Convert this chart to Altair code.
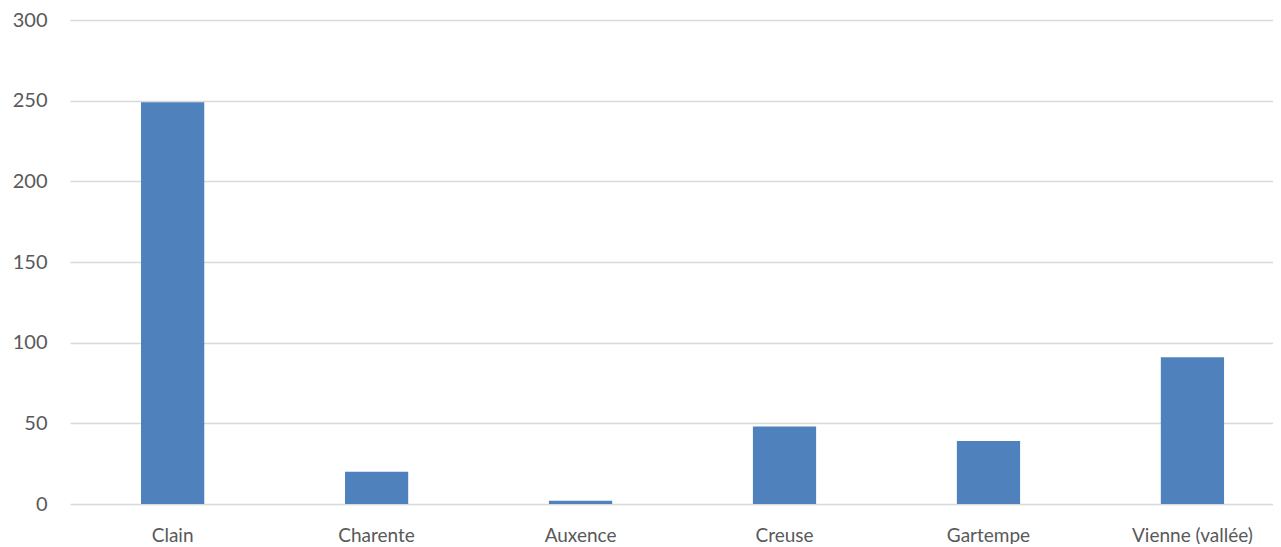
import altair as alt
import pandas as pd

categories = ["Clain", "Charente", "Auxence", "Creuse", "Gartempe", "Vienne (vallée)"]
values = [249, 20, 2, 48, 39, 91]

df = pd.DataFrame({"cat": categories, "val": values})

chart = alt.Chart(df).mark_bar(color="#4f81bd").encode(
    x=alt.X("cat:N", sort=categories, title=None,
            scale=alt.Scale(paddingInner=0.69, paddingOuter=0.3137, align=0.555, range=[0, 1211]),
            axis=alt.Axis(labelAngle=0, ticks=False, domain=False, labelPadding=22,
                          labelFont="Lato", labelFontSize=19, labelColor="#595959")),
    y=alt.Y("val:Q", title=None,
            scale=alt.Scale(domain=[0, 300], nice=False),
            axis=alt.Axis(values=[0, 50, 100, 150, 200, 250, 300], ticks=False, domain=False,
                          labelPadding=23, labelFont="Lato", labelFontSize=20, labelColor="#595959",
                          gridColor="#d9d9d9", gridWidth=1.5)),
).properties(
    width=1203, height=484,
    autosize=alt.AutoSizeParams(type="none"),
    padding={"left": 62, "top": 12, "right": 0, "bottom": 40},
).configure_view(stroke=None)

chart.save("out.html", embed_options={"renderer": "svg", "actions": False})
